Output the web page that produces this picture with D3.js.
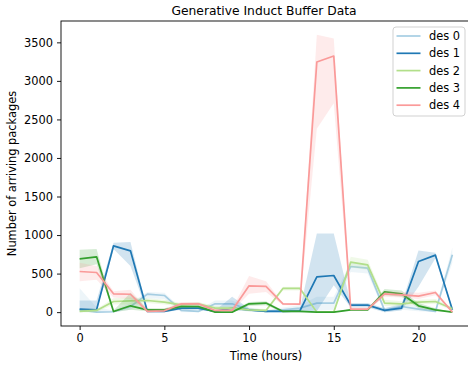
<!DOCTYPE html>
<html>
<head>
<meta charset="utf-8">
<script src="https://cdn.jsdelivr.net/npm/d3@7"></script>
<style>
body { margin: 0; background: #fff; }
svg { display: block; font-family: "DejaVu Sans", sans-serif; }
</style>
</head>
<body>
<svg id="chart"></svg>
<script>
// hours 0..22
var hours = d3.range(0, 23);
var seriesNames = ["des 0", "des 1", "des 2", "des 3", "des 4"];
var seriesColors = ["#a6cee3", "#1f78b4", "#b2df8a", "#33a02c", "#fb9a99"];

// mean values
var des0 = [30, 0, 5, 73, 233, 216, 22, 9, 108, 108, 30, 9, 30, 52, 117, 117, 592, 570, 22, 73, 39, 9, 743];
var des1 = [39, 30, 860, 795, 9, 9, 52, 52, 9, 52, 30, 9, 9, 17, 458, 475, 91, 91, 22, 52, 657, 739, 30];
var des2 = [9, 22, 138, 147, 151, 130, 95, 108, 52, 52, 30, 22, 307, 307, 0, 0, 648, 614, 117, 108, 130, 138, 43];
var des3 = [691, 717, 9, 82, 30, 30, 73, 73, 0, 0, 108, 117, 9, 9, 0, 0, 30, 30, 264, 238, 82, 30, 0];
var des4 = [527, 514, 238, 232, 10, 17, 108, 108, 22, 22, 341, 333, 108, 104, 3245, 3322, 39, 39, 238, 225, 207, 255, 0];

// confidence band edges
var des0Lo = [0, 0, 0, 30, 180, 170, 0, 0, 60, 60, 10, 0, 10, 20, 20, 30, 520, 500, 0, 30, 10, 0, 640];
var des0Hi = [310, 60, 20, 120, 260, 250, 50, 30, 150, 150, 60, 30, 60, 90, 200, 200, 650, 620, 50, 120, 80, 30, 840];
var des1Lo = [10, 10, 820, 600, 0, 0, 30, 30, 0, 20, 10, 0, 0, 0, 10, 350, 60, 60, 0, 20, 330, 700, 10];
var des1Hi = [150, 150, 900, 910, 20, 20, 80, 80, 20, 200, 50, 20, 20, 40, 1020, 1020, 120, 120, 50, 100, 800, 770, 50];
var des2Lo = [0, 0, 100, 100, 120, 100, 70, 80, 30, 30, 10, 0, 280, 280, 0, 0, 580, 550, 80, 80, 100, 110, 20];
var des2Hi = [30, 40, 180, 190, 180, 160, 120, 130, 80, 80, 50, 40, 330, 330, 0, 0, 720, 680, 160, 140, 160, 170, 70];
var des3Lo = [570, 620, 0, 30, 10, 10, 50, 50, 0, 0, 80, 90, 0, 0, 0, 0, 20, 20, 220, 200, 50, 10, 0];
var des3Hi = [810, 820, 20, 250, 50, 50, 100, 100, 10, 10, 130, 140, 20, 20, 0, 0, 40, 40, 300, 280, 120, 50, 0];
var des4Lo = [400, 420, 190, 170, 0, 0, 90, 90, 10, 10, 240, 260, 90, 90, 2380, 2710, 20, 20, 200, 190, 170, 220, 0];
var des4Hi = [640, 600, 270, 290, 30, 40, 130, 130, 40, 40, 470, 400, 120, 120, 3600, 3550, 60, 60, 270, 260, 250, 280, 10];

var xTicks = [0, 5, 10, 15, 20];
var yTicks = [0, 500, 1000, 1500, 2000, 2500, 3000, 3500];

var means = [des0, des1, des2, des3, des4];
var lows = [des0Lo, des1Lo, des2Lo, des3Lo, des4Lo];
var highs = [des0Hi, des1Hi, des2Hi, des3Hi, des4Hi];

var series = seriesNames.map(function (name, s) {
    return {
        name: name,
        color: seriesColors[s],
        points: hours.map(function (h, i) {
            return { x: h, y: means[s][i], lo: lows[s][i], hi: highs[s][i] };
        })
    };
});

var W = 468, H = 369;
var padL = 61, padR = 471, padT = 21, padB = 326;

var svg = d3.select("#chart").attr("width", W).attr("height", H);

var x = d3.scaleLinear().domain([-1.1, 23.1]).range([padL, padR]);
var y = d3.scaleLinear().domain([-180, 3777]).range([padB, padT]);

var defs = svg.append("defs");
defs.append("clipPath").attr("id", "plotclip")
    .append("rect").attr("x", padL).attr("y", padT)
    .attr("width", padR - padL).attr("height", padB - padT);

var plot = svg.append("g").attr("clip-path", "url(#plotclip)");

var area = d3.area()
    .x(function (d) { return x(d.x) })
    .y0(function (d) { return y(d.lo) })
    .y1(function (d) { return y(d.hi) });
var line = d3.line()
    .x(function (d) { return x(d.x) })
    .y(function (d) { return y(d.y) });

series.forEach(function (s) {
    plot.append("path")
        .attr("d", line(s.points))
        .attr("fill", "none")
        .attr("stroke", s.color)
        .attr("stroke-width", 1.7)
        .attr("stroke-linejoin", "round");
    plot.append("path")
        .attr("d", area(s.points))
        .attr("fill", s.color)
        .attr("fill-opacity", 0.2)
        .attr("stroke", "none");
});

// axes
var xAxis = d3.axisBottom(x).tickValues(xTicks).tickFormat(d3.format("d")).tickSize(4).tickPadding(4);
var yAxis = d3.axisLeft(y).tickValues(yTicks).tickFormat(d3.format("d")).tickSize(4).tickPadding(4);

var gx = svg.append("g").attr("transform", "translate(0," + padB + ")").call(xAxis);
var gy = svg.append("g").attr("transform", "translate(" + padL + ",0)").call(yAxis);
[gx, gy].forEach(function (g) {
    g.select(".domain").remove();
    g.selectAll(".tick line").attr("stroke", "#000").attr("stroke-width", 0.9);
    g.selectAll(".tick text").attr("fill", "#000")
        .style("font-family", "DejaVu Sans").style("font-size", "11.4px");
});

// frame
svg.append("rect")
    .attr("x", padL).attr("y", padT)
    .attr("width", padR - padL).attr("height", padB - padT)
    .attr("fill", "none").attr("stroke", "#000").attr("stroke-width", 0.9);

// titles
svg.append("text")
    .attr("x", (padL + padR) / 2 - 2).attr("y", 14.5)
    .attr("text-anchor", "middle")
    .style("font-size", "12.3px")
    .text("Generative Induct Buffer Data");
svg.append("text")
    .attr("x", (padL + padR) / 2).attr("y", 360)
    .attr("text-anchor", "middle")
    .style("font-size", "11.4px")
    .text("Time (hours)");
svg.append("text")
    .attr("transform", "translate(16," + ((padT + padB) / 2) + ") rotate(-90)")
    .attr("text-anchor", "middle")
    .style("font-size", "11.4px")
    .text("Number of arriving packages");

// legend
var lg = svg.append("g").attr("transform", "translate(393,27)");
lg.append("rect")
    .attr("width", 72).attr("height", 89)
    .attr("rx", 3).attr("ry", 3)
    .attr("fill", "#fff").attr("fill-opacity", 0.8)
    .attr("stroke", "#ccc").attr("stroke-width", 0.9);
series.forEach(function (s, i) {
    var yy = 9 + i * 17.3;
    lg.append("line")
        .attr("x1", 3.5).attr("x2", 27.5)
        .attr("y1", yy).attr("y2", yy)
        .attr("stroke", s.color).attr("stroke-width", 1.7);
    lg.append("text")
        .attr("x", 36).attr("y", yy + 4)
        .style("font-size", "11.4px")
        .text(s.name);
});
</script>
</body>
</html>
